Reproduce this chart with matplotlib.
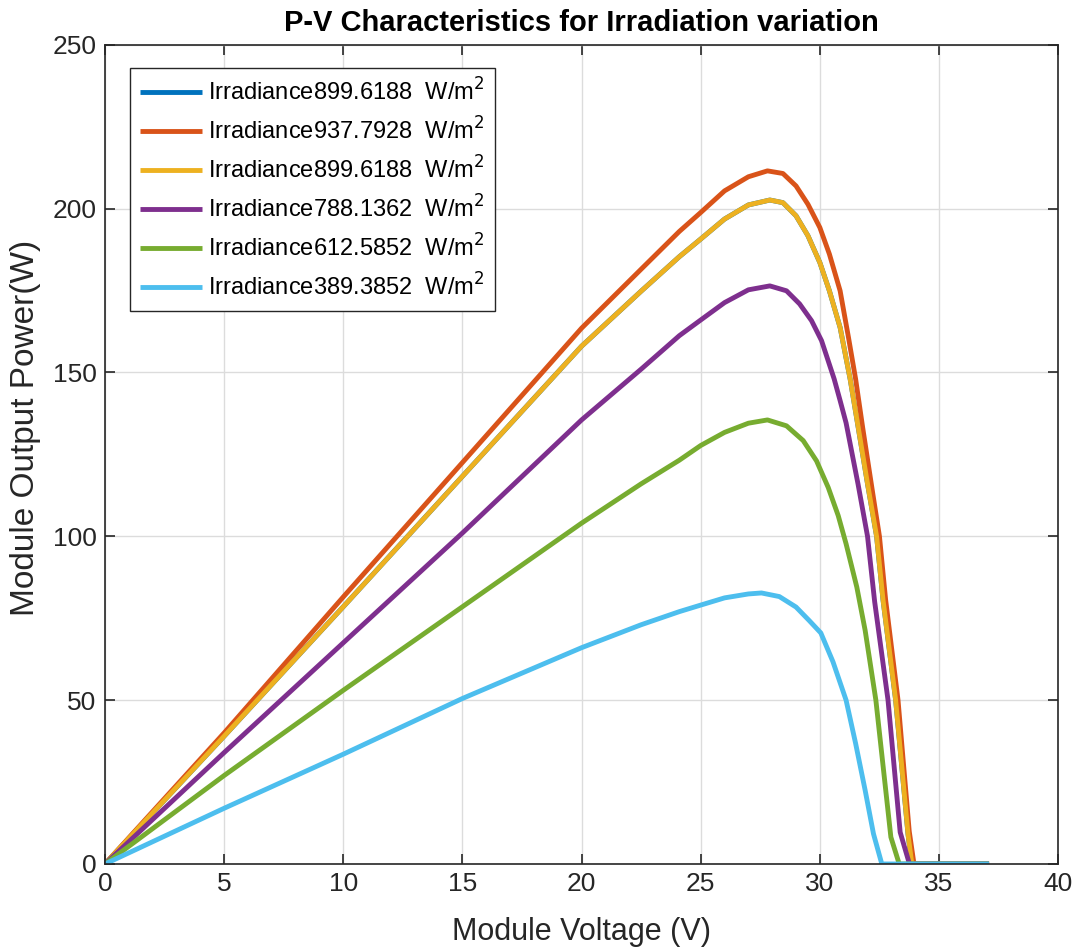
import matplotlib
matplotlib.use("Agg")
import matplotlib.pyplot as plt

# P-V curves per irradiance level (voltage in V, power in W)
v_899a = [0, 5, 10, 15, 20, 22.5, 24.1, 25, 26, 27, 27.9, 28.45, 29.0, 29.5, 30, 30.4, 30.85,
          31.27, 31.5, 32.0, 32.38, 32.65, 33.18, 33.7, 33.86, 37.1]
p_899a = [0, 39, 78.5, 118.3, 158, 174.8, 185.3, 190.7, 196.8, 201.1, 202.6, 201.8, 197.8, 191.7, 183.5, 174.9, 163.7,
          148, 138, 116, 100, 80.6, 50, 9, 0, 0]

v_937 = [0, 5, 10, 15, 20, 22.5, 24.1, 25, 26, 27, 27.8, 28.45, 29.0, 29.5, 30, 30.4, 30.85,
         31.2, 31.5, 31.8, 32.2, 32.5, 32.76, 33.28, 33.75, 33.95, 37.1]
p_937 = [0, 40, 81.5, 122.5, 163.5, 181.5, 193.0, 198.8, 205.4, 209.7, 211.5, 210.7, 206.9, 201.3, 194.2, 186.1, 174.9,
         160.7, 148, 133, 114, 100, 80.6, 50, 10, 0, 0]

v_899b = list(v_899a)
p_899b = list(p_899a)

v_788 = [0, 5, 10, 15, 20, 22.5, 24.1, 25, 26, 27, 27.9, 28.6, 29.15, 29.65, 30.07, 30.6, 30.85,
         31.1, 31.6, 32.0, 32.3, 32.86, 33.37, 33.76, 37.1]
p_788 = [0, 34, 67.5, 101, 135.5, 151, 161.2, 166, 171.3, 175.2, 176.4, 174.9, 170.9, 165.8, 159.7, 148, 141.4,
         134.6, 116, 100, 80, 50, 9.7, 0, 0]

v_612 = [0, 5, 10, 15, 20, 22.5, 24.1, 25, 26, 27, 27.8, 28.6, 29.3, 29.86, 30.35, 30.77,
         31.1, 31.55, 31.9, 32.35, 32.98, 33.33, 37.1]
p_612 = [0, 27, 53, 78.5, 104, 116, 123.2, 127.7, 131.7, 134.5, 135.5, 133.7, 129.2, 123, 114.9, 106.3,
         97.7, 84.5, 71.3, 50, 8.2, 0, 0]

v_389 = [0, 5, 10, 15, 20, 22.5, 24.1, 25, 26, 27, 27.55, 28.3, 29.0, 29.55, 30.04, 30.55,
         31.1, 31.5, 31.9, 32.25, 32.6, 37.1]
p_389 = [0, 17, 33.5, 50.5, 66, 73, 77, 79, 81.2, 82.4, 82.7, 81.6, 78.4, 74.3, 70.5, 61.7,
         50, 36.8, 22.5, 9.2, 0, 0]

irradiance = ["899.6188", "937.7928", "899.6188", "788.1362", "612.5852", "389.3852"]
colors = ["#0072BD", "#D95319", "#EDB120", "#7E2F8E", "#77AC30", "#4DBEEE"]

series = [(v_899a, p_899a), (v_937, p_937), (v_899b, p_899b),
          (v_788, p_788), (v_612, p_612), (v_389, p_389)]

plt.rcParams["font.family"] = ["Liberation Sans", "DejaVu Sans"]
dark = "#262626"

fig = plt.figure(figsize=(10.77, 9.51), dpi=100)
ax = fig.add_axes([0.0975, 0.0915, 0.885, 0.8615])

for (v, p), irr, c in zip(series, irradiance, colors):
    ax.plot(v, p, color=c, lw=3.5, label="Irradiance" + irr + "  W/m$^2$",
            solid_joinstyle="round", solid_capstyle="butt")

ax.set_xlim(0, 40)
ax.set_ylim(0, 250)
ax.set_xticks(range(0, 41, 5))
ax.set_yticks(range(0, 251, 50))
ax.grid(True, color="#dcdcdc", lw=1)
ax.set_axisbelow(True)
ax.tick_params(direction="in", top=True, right=True, length=7, width=1.2,
               colors=dark, labelsize=19, pad=6)
for s in ax.spines.values():
    s.set_color(dark)
    s.set_linewidth(1.2)

ax.set_xlabel("Module Voltage (V)", fontsize=22, color=dark, labelpad=15)
ax.set_ylabel("Module Output Power(W)", fontsize=24, color=dark)
ax.yaxis.set_label_coords(-0.067, 0.532)
ax.set_title("P-V Characteristics for Irradiation variation", fontsize=21,
             fontweight="bold", color="black", pad=10)

leg = ax.legend(loc="upper left", bbox_to_anchor=(0.026, 0.972), borderaxespad=0,
                fontsize=17, fancybox=False, framealpha=1, edgecolor=dark,
                handlelength=2.6, handletextpad=0.25, labelspacing=0.5, borderpad=0.45)
leg.get_frame().set_linewidth(1.0)

fig.savefig("out.png", dpi=100)
